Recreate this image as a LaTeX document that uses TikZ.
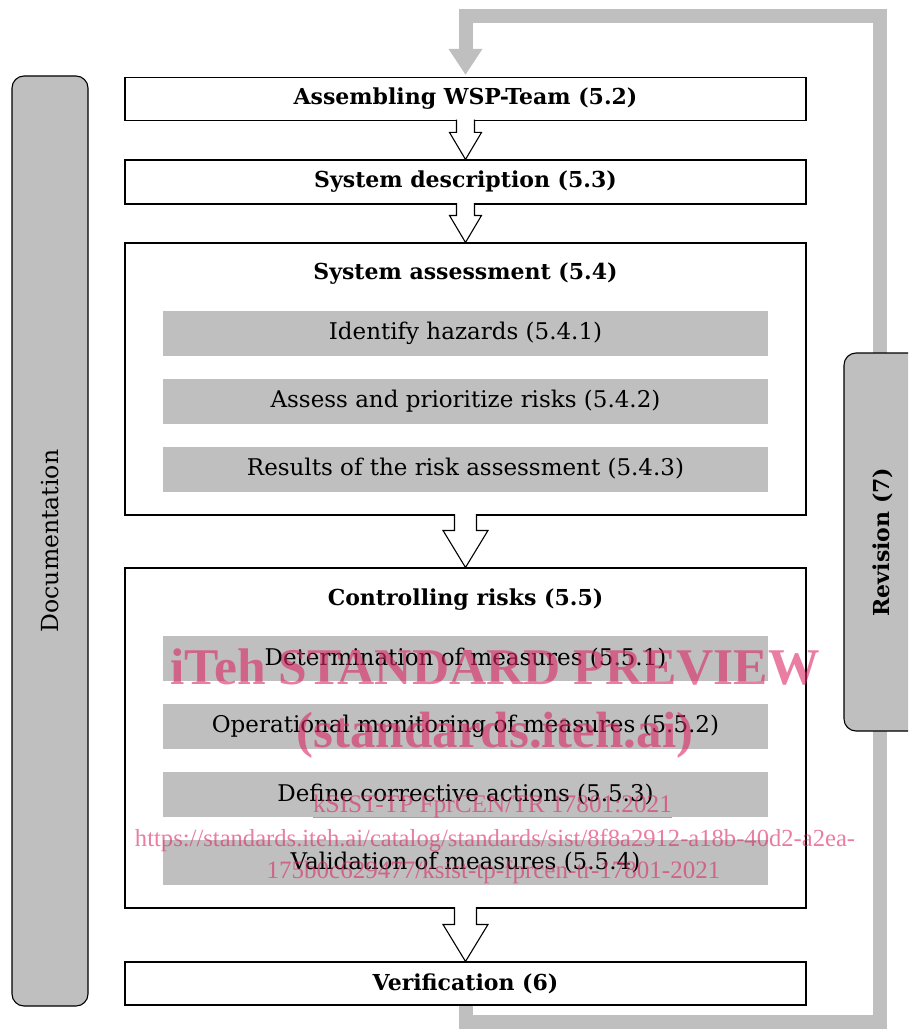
\documentclass[tikz,border=0pt]{standalone}
\usepackage{fontspec}
\setmainfont{DejaVu Serif}
\newfontfamily\wmfont{Liberation Serif}
\usetikzlibrary{calc,arrows.meta}
\definecolor{boxgray}{RGB}{191,191,191}
\definecolor{wmpink}{RGB}{220,40,100}
\newcommand{\hollowarrow}[5]{%
	\draw[line width=1.1pt, fill=white, line join=miter] ($(#1)+(-#3,-1.5)$) -- ($(#2)+(-#3,-#5)$) -- ($(#2)+(-#4,-#5)$) -- (#2) -- ($(#2)+(#4,-#5)$) -- ($(#2)+(#3,-#5)$) -- ($(#1)+(#3,-1.5)$);
}
\begin{document}
\begin{tikzpicture}[x=1pt, y=-1pt,
	stage/.style={draw, line width=1.1pt, fill=white, minimum width=681pt, inner sep=0pt},
	stagetitle/.style={font=\fontsize{22}{26}\selectfont\bfseries},
	substage/.style={fill=boxgray, minimum width=605pt, minimum height=45pt, inner sep=0pt, font=\fontsize{23}{27}\selectfont},
	sidebar/.style={draw, line width=1.1pt, fill=boxgray, rounded corners=12pt, rotate=90, inner sep=0pt},
	watermark/.style={text=wmpink, opacity=0.6, inner sep=0pt}]
		\useasboundingbox (0,0) rectangle (908,1030);
		\clip (0,0) rectangle (908,1030);
		\fill[white] (0,0) rectangle (908,1030);
		% revision loop
		\node[stage, minimum height=43pt, stagetitle] (team) at (465.5,99) {Assembling WSP-Team (5.2)};
		\node[stage, minimum height=43pt, stagetitle] (verif) at (465.5,983.5) {Verification (6)};
		\coordinate (loopcorner) at (880,16.5);
		\draw[boxgray, line width=14pt, -{Triangle[width=32pt, length=26pt]}] (verif.south) -- ++(0,16.5) -| (loopcorner) -| ($(team.north)+(0,-2)$);
		\node[stage, minimum height=43pt, stagetitle] (team) at (465.5,99) {Assembling WSP-Team (5.2)};
		\node[stage, minimum height=43pt, stagetitle] (verif) at (465.5,983.5) {Verification (6)};
		\node[stage, minimum height=44pt, stagetitle] (desc) at (465.5,182) {System description (5.3)};
		\node[stage, minimum height=272pt] (assess) at (465.5,379) {};
		\node[stagetitle] (assesstitle) at (465.5,274) {System assessment (5.4)};
		\node[substage] (hazards) at (465.5,333) {Identify hazards (5.4.1)};
		\node[substage] (risks) at (465.5,401) {Assess and prioritize risks (5.4.2)};
		\node[substage] (results) at (465.5,469) {Results of the risk assessment (5.4.3)};
		\node[stage, minimum height=340pt] (control) at (465.5,738) {};
		\node[stagetitle] (controltitle) at (465.5,600) {Controlling risks (5.5)};
		\node[substage] (measures) at (465.5,658.5) {Determination of measures (5.5.1)};
		\node[substage] (monitoring) at (465.5,726.5) {Operational monitoring of measures (5.5.2)};
		\node[substage] (corrective) at (465.5,794.5) {Define corrective actions (5.5.3)};
		\node[substage] (validation) at (465.5,862.5) {Validation of measures (5.5.4)};
		\hollowarrow{team.south}{desc.north}{9}{16}{27}
		\hollowarrow{desc.south}{assess.north}{9}{16}{27}
		\hollowarrow{assess.south}{control.north}{11}{22.5}{37}
		\hollowarrow{control.south}{verif.north}{11}{22.5}{37}
		\node[sidebar, minimum width=930pt, minimum height=76pt, font=\fontsize{23.5}{27}\selectfont] (docu) at (50,541) {Documentation};
		\node[sidebar, minimum width=378pt, minimum height=77pt, font=\fontsize{22}{26}\selectfont\bfseries] (revision) at (882.5,542) {Revision (7)};
		% watermark
		\node[watermark, font=\wmfont\fontsize{51.5}{55}\selectfont\bfseries] (wmtitle) at (495,667) {iTeh STANDARD PREVIEW};
		\node[watermark, font=\wmfont\fontsize{51}{55}\selectfont\bfseries] (wmsite) at (495,735) {(standards.iteh.ai)};
		\node[watermark, font=\wmfont\fontsize{25.3}{28}\selectfont] (wmcat) at (492.5,806) {kSIST-TP FprCEN/TR 17801:2021};
		\draw[wmpink, opacity=0.6, line width=1pt] ($(wmcat.base west)+(0,5)$) -- ($(wmcat.base east)+(0,5)$);
		\node[watermark, font=\wmfont\fontsize{24.6}{28}\selectfont] (wmurl) at (495,840) {https://standards.iteh.ai/catalog/standards/sist/8f8a2912-a18b-40d2-a2ea-};
		\node[watermark, font=\wmfont\fontsize{25}{28}\selectfont] (wmid) at (493.5,872) {175b0c629477/ksist-tp-fprcen-tr-17801-2021};
\end{tikzpicture}
\end{document}
